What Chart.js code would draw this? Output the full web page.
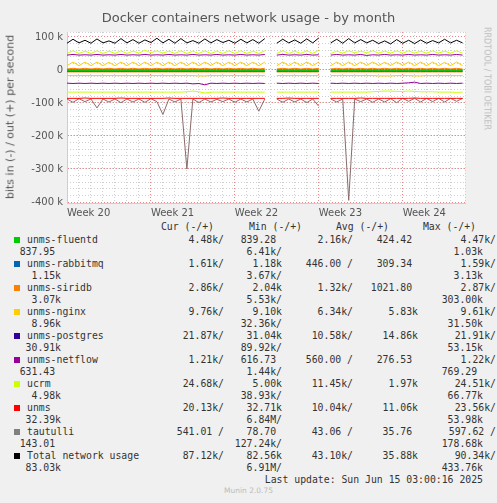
<!DOCTYPE html>
<html><head><meta charset="utf-8">
<script src="https://cdn.jsdelivr.net/npm/chart.js@4/dist/chart.umd.min.js"></script>
<style>
body{margin:0;background:#f0f0f0;width:497px;height:503px;overflow:hidden;position:relative;font-family:"DejaVu Sans",sans-serif}
#wrap{position:absolute;left:0;top:0;width:497px;height:220px}
.t{position:absolute;white-space:pre;font-family:"DejaVu Sans Mono",monospace;font-size:9.8px;color:#333;line-height:12px}
.sq{position:absolute;width:6px;height:6px}
</style></head><body>
<div id="wrap"><canvas id="c"></canvas></div>
<div style="position:absolute;left:0;width:497px;top:10px;text-align:center;font-size:13px;color:#555">Docker containers network usage - by month</div>
<div style="position:absolute;left:10px;top:117px;transform:translate(-50%,-50%) rotate(-90deg);font-size:11px;color:#555;white-space:nowrap">bits in (-) / out (+) per second</div>
<div style="position:absolute;left:487px;top:27px;transform-origin:0 0;transform:rotate(90deg) translate(0,-50%);font-size:8px;color:#bbb;white-space:nowrap">RRDTOOL / TOBI OETIKER</div>
<div id="leg"></div>
<script>
const days=[0,0.5,1,1.5,2,2.5,3,3.5,4,4.5,5,5.5,6,6.5,7,7.5,8,8.5,9,9.5,10,10.5,11,11.5,12,12.5,13,13.5,14,14.5,15,15.5,16,16.5,17,17.5,18,18.5,19,19.5,20,20.5,21,21.5,22,22.5,23,23.5,24,24.5,25,25.5,26,26.5,27,27.5,28,28.5,29,29.5,30,30.5,31,31.5,32,32.5,33];
const weekLabels=["Week 20","Week 21","Week 22","Week 23","Week 24"];
const yTicks=[100,0,-100,-200,-300,-400];
const totalOut=[81,93,82,90,81,94,82,88,81,95,82,92,81,91,83,96,82,93,81,95,82,89,81,94,82,92,83,90,81,93,82,92,81,95,null,81,93,82,91,81,94,82,97,null,82,93,81,95,82,92,82,90,80,88,79,92,81,90,80,91,81,89,82,93,82,90,82];
const ucrmOut=[50,58,50,57,50,58,50,57,50,58,50,57,51,60,52,58,51,57,50,58,50,57,50,58,50,57,50,58,50,58,50,57,50,58,null,50,58,50,57,50,58,50,60,null,50,57,51,58,52,57,52,58,51,57,51,58,51,58,51,57,51,58,51,57,51,58,51];
const ucrmIn=[-67,-67,-67,-67,-67,-67,-67,-67,-67,-67,-67,-67,-67,-67,-67,-67,-67,-67,-67,-67,-66,-64,-66,-70,-67,-67,-67,-67,-67,-67,-67,-67,-67,-67,null,-67,-67,-67,-67,-67,-67,-67,-67,null,-67,-67,-67,-67,-67,-67,-67,-66,-65,-64,-64,-65,-65,-64,-65,-66,-66,-66,-67,-67,-67,-68,-67];
const netflowOut=[45,47,45,46,45,47,45,46,45,47,45,46,45,47,45,46,45,47,45,46,45,47,45,46,45,47,45,46,45,47,45,46,45,47,null,45,47,45,46,45,47,45,46,null,45,47,45,46,45,47,44,46,45,47,45,46,45,47,45,46,45,47,45,46,45,47,45];
const netflowIn=[-40,-41,-40,-41,-40,-41,-40,-41,-40,-41,-40,-41,-40,-41,-40,-41,-40,-41,-40,-41,-40,-42,-41,-45,-40,-41,-40,-41,-40,-41,-40,-41,-40,-41,null,-40,-41,-40,-41,-40,-41,-40,-41,null,-40,-41,-40,-41,-40,-41,-40,-41,-40,-41,-40,-41,-40,-39,-37,-41,-40,-41,-40,-41,-40,-41,-40];
const nginxOut=[13,24,13,24,13,24,13,23,13,24,13,24,13,24,13,24,13,24,13,24,13,24,13,24,14,24,13,24,13,24,13,24,13,24,null,13,24,13,24,13,24,13,24,null,13,24,13,24,13,24,14,24,14,23,14,24,14,24,13,24,13,24,13,23,13,24,13];
const nginxIn=[-17,-17,-17,-17,-17,-17,-17,-17,-17,-17,-17,-17,-17,-17,-17,-17,-17,-17,-17,-17,-17,-17,-18,-18,-17,-17,-17,-17,-17,-17,-17,-17,-17,-17,null,-17,-17,-17,-17,-17,-17,-17,-17,null,-17,-17,-17,-17,-17,-17,-17,-17,-18,-18,-18,-17,-17,-17,-18,-18,-17,-17,-17,-17,-17,-17,-17];
const siridbOut=[3,5,3,5,3,5,3,5,3,5,3,5,3,5,3,5,3,5,3,5,3,5,3,5,3,5,3,5,3,5,3,5,3,5,null,3,5,3,5,3,5,3,5,null,3,5,3,5,3,5,3,5,3,5,3,5,3,5,3,5,3,5,3,5,3,5,3];
const siridbIn=[-6,-6,-6,-6,-6,-6,-6,-6,-6,-6,-6,-6,-6,-6,-6,-6,-6,-6,-6,-6,-6,-6,-6,-6,-6,-6,-6,-6,-6,-6,-6,-6,-6,-6,null,-6,-6,-6,-6,-6,-6,-6,-6,null,-6,-6,-6,-6,-6,-6,-6,-6,-6,-6,-6,-6,-6,-6,-6,-6,-6,-6,-6,-6,-6,-6,-6];
const fluentdOut=[1,1,1,1,1,1,1,1,1,1,1,1,1,1,1,1,1,1,1,1,1,1,1,1,1,1,1,1,1,1,1,1,1,1,null,1,1,1,1,1,1,1,1,null,1,1,1,1,1,1,1,1,1,1,1,1,1,1,1,1,1,1,1,1,1,1,1];
const fluentdIn=[-2,-2,-2,-2,-2,-2,-2,-2,-2,-2,-2,-2,-2,-2,-2,-2,-2,-2,-2,-2,-2,-2,-2,-2,-2,-2,-2,-2,-2,-2,-2,-2,-2,-2,null,-2,-2,-2,-2,-2,-2,-2,-2,null,-2,-2,-2,-2,-2,-2,-2,-2,-2,-2,-2,-2,-2,-2,-2,-2,-2,-2,-2,-2,-2,-2,-2];
const rabbitmqIn=[-4,-4,-4,-4,-4,-4,-4,-4,-4,-4,-4,-4,-4,-4,-4,-4,-4,-4,-4,-4,-4,-4,-4,-4,-4,-4,-4,-4,-4,-4,-4,-4,-4,-4,null,-4,-4,-4,-4,-4,-4,-4,-4,null,-4,-4,-4,-4,-4,-4,-4,-4,-4,-4,-4,-4,-4,-4,-4,-4,-4,-4,-4,-4,-4,-4,-4];
const postgresIn=[-3,-3,-3,-3,-3,-3,-3,-3,-3,-3,-3,-3,-3,-3,-3,-3,-3,-3,-3,-3,-3,-3,-3,-3,-3,-3,-3,-3,-3,-3,-3,-3,-3,-3,null,-3,-3,-3,-3,-3,-3,-3,-3,null,-3,-3,-3,-3,-3,-3,-3,-3,-3,-3,-3,-3,-3,-3,-3,-3,-3,-3,-3,-3,-3,-3,-3];
const unmsIn=[-86,-86,-86,-85,-86,-86,-86,-86,-86,-85,-86,-86,-86,-86,-86,-86,-86,-85,-86,-86,-86,-86,-86,-86,-86,-86,-85,-86,-86,-86,-86,-86,-86,-86,null,-86,-86,-85,-86,-86,-86,-86,-86,null,-86,-86,-86,-86,-86,-85,-86,-86,-86,-86,-86,-86,-86,-86,-85,-86,-86,-86,-86,-86,-86,-86,-86];
const tautulliIn=[-88,-98,-87,-96,-88,-115,-88,-97,-88,-99,-88,-97,-88,-98,-87,-96,-135,-88,-97,-88,-300,-88,-99,-88,-97,-89,-96,-88,-98,-88,-97,-88,-125,-88,null,-88,-98,-88,-97,-88,-99,-88,-110,null,-88,-97,-88,-395,-88,-96,-88,-98,-88,-97,-87,-99,-86,-95,-86,-97,-86,-96,-86,-97,-86,-95,-86];

const series=[
 ["#00cc00",fluentdIn],["#00cc00",fluentdOut],["#0066b3",rabbitmqIn],["#ff8000",siridbIn],["#ff8000",siridbOut],
 ["#ffcc00",nginxIn],["#ffcc00",nginxOut],["#330099",postgresIn],["#990099",netflowIn],["#990099",netflowOut],
 ["#ccff00",ucrmIn],["#ccff00",ucrmOut],["#ff0000",unmsIn],["#8a6a6a",tautulliIn],["#000000",totalOut]];
const datasets=series.map(([c,a])=>({data:a.map((v,i)=>({x:days[i],y:v})),borderColor:c,borderWidth:1,pointRadius:0,spanGaps:false,tension:0}));
const bg={id:'bg',beforeDraw(ch){const a=ch.chartArea,x=ch.ctx;x.save();x.fillStyle='#fff';x.fillRect(a.left,a.top,a.right-a.left,a.bottom-a.top);x.restore();}};
new Chart(document.getElementById('c'),{type:'line',data:{datasets},plugins:[bg],
options:{responsive:true,maintainAspectRatio:false,animation:false,layout:{padding:{top:32,right:32}},
plugins:{legend:{display:false},tooltip:{enabled:false}},
scales:{
 x2:{type:'linear',min:0,max:33.2,position:'bottom',afterFit:s=>{s.height=0},ticks:{display:false,stepSize:1},border:{display:false,dash:[1,2]},grid:{color:'#cfcfcf',drawTicks:false}},
 y2:{type:'linear',min:-403,max:115,position:'left',afterFit:s=>{s.width=0},ticks:{display:false,stepSize:20},border:{display:false,dash:[1,2]},grid:{color:'#cfcfcf',drawTicks:false}},
 x:{type:'linear',min:0,max:33.2,afterFit:s=>{s.height=17},
  afterBuildTicks:s=>{s.ticks=[0,7,14,21,28].map(v=>({value:v}))},
  ticks:{autoSkip:false,maxRotation:0,align:'start',padding:4,color:'#555',font:{size:10,family:'DejaVu Sans'},callback:v=>weekLabels[v/7]},
  border:{color:'#ccd',dash:[1,2]},grid:{color:'#e88',drawTicks:false}},
 y:{type:'linear',min:-403,max:115,afterFit:s=>{s.width=67},
  afterBuildTicks:s=>{s.ticks=yTicks.map(v=>({value:v}))},
  ticks:{padding:4,color:'#555',font:{size:10,family:'DejaVu Sans'},callback:v=>v===0?'0':v+' k'},
  border:{color:'#ccd',dash:[1,2]},grid:{color:'#e88',drawTicks:false}}
}}});

const legRows=[
 ["#00cc00","unms-fluentd","4.48k/","839.28 ","2.16k/","424.42 ","4.47k/","837.95 ","6.41k/","1.03k"],
 ["#0066b3","unms-rabbitmq","1.61k/","1.18k","446.00 /","309.34 ","1.59k/","1.15k","3.67k/","3.13k"],
 ["#ff8000","unms-siridb","2.86k/","2.04k","1.32k/","1021.80 ","2.87k/","3.07k","5.53k/","303.00k"],
 ["#ffcc00","unms-nginx","9.76k/","9.10k","6.34k/","5.83k","9.61k/","8.96k","32.36k/","31.50k"],
 ["#330099","unms-postgres","21.87k/","31.04k","10.58k/","14.86k","21.91k/","30.91k","89.92k/","53.15k"],
 ["#990099","unms-netflow","1.21k/","616.73 ","560.00 /","276.53 ","1.22k/","631.43 ","1.44k/","769.29 "],
 ["#ccff00","ucrm","24.68k/","5.00k","11.45k/","1.97k","24.51k/","4.98k","38.93k/","66.77k"],
 ["#ff0000","unms","20.13k/","32.71k","10.04k/","11.06k","23.56k/","32.39k","6.84M/","53.98k"],
 ["#808080","tautulli","541.01 /","78.70 ","43.06 /","35.76 ","597.62 /","143.01 ","127.24k/","178.68k"],
 ["#000000","Total network usage","87.12k/","82.56k","43.10k/","35.88k","90.34k/","83.03k","6.91M/","433.76k"]];
let h='';
const span=(txt,right,y)=>`<div class="t" style="right:${497-right}px;top:${y-6}px">${txt}</div>`;
h+=span('Cur (-/+)',214,227)+span('Min (-/+)',302,227)+span('Avg (-/+)',389,227)+span('Max (-/+)',476,227);
legRows.forEach((r,k)=>{const y=240+k*24;
 h+=`<div class="sq" style="left:14px;top:${y-3}px;background:${r[0]}"></div>`;
 h+=`<div class="t" style="left:27px;top:${y-6}px">${r[1]}</div>`;
 h+=span(r[2],224,y)+span(r[3],282,y)+span(r[4],353,y)+span(r[5],418,y)+span(r[6],496,y);
 h+=span(r[7],61,y+12)+span(r[8],282,y+12)+span(r[9],483,y+12);
});
h+=span('Last update: Sun Jun 15 03:00:16 2025',483,480);
h+=`<div style="position:absolute;left:0;width:497px;top:486px;text-align:center;font-size:7.5px;color:#bbb">Munin 2.0.75</div>`;
document.getElementById('leg').innerHTML=h;
</script></body></html>
